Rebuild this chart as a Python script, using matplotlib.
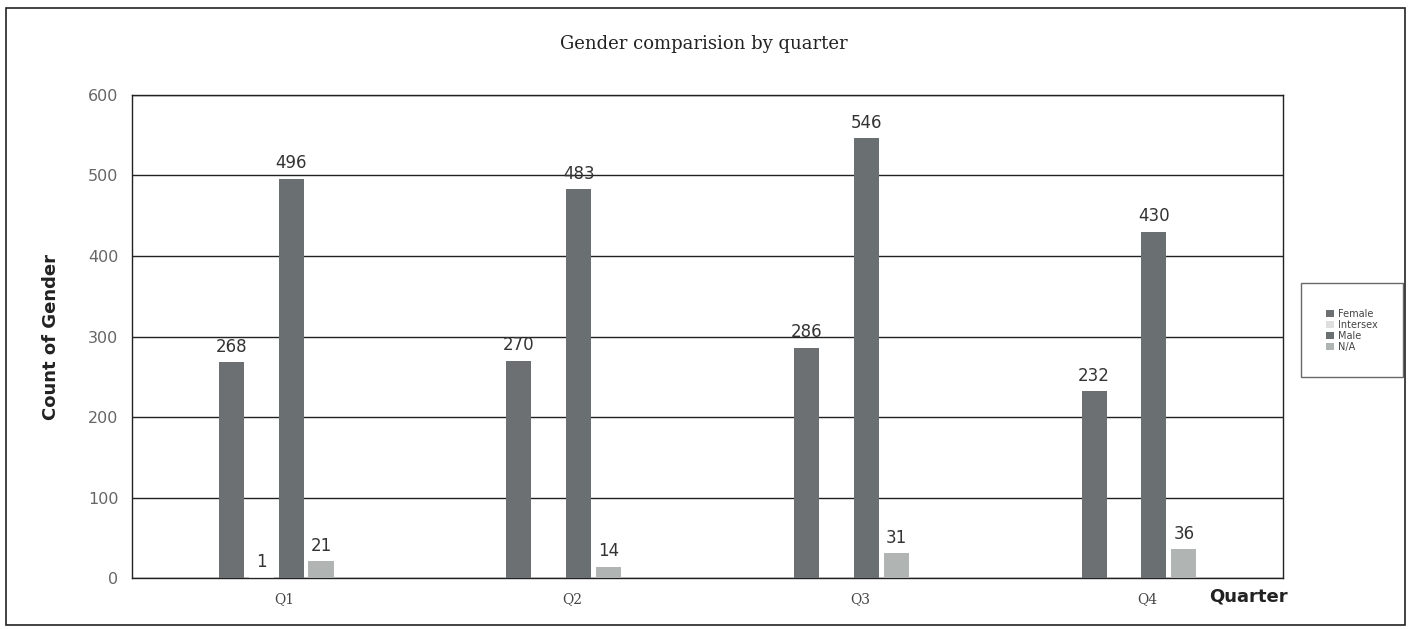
import matplotlib
matplotlib.use("Agg")
import matplotlib.pyplot as plt
import numpy as np
from matplotlib.patches import Rectangle

quarters = ["Q1", "Q2", "Q3", "Q4"]
series = ["Female", "Intersex", "Male", "N/A"]
female = [268, 270, 286, 232]
intersex = [1, 0, 0, 0]
male = [496, 483, 546, 430]
na = [21, 14, 31, 36]
values = [female, intersex, male, na]
colors = ["#6c7072", "#dedede", "#6a6f72", "#b0b4b3"]

fig = plt.figure(figsize=(14.08, 6.29), dpi=100)
ax = fig.add_axes([0.094, 0.081, 0.817, 0.768])

x = np.arange(len(quarters))
slot = 0.104
bw = 0.087
for i, (name, vals, c) in enumerate(zip(series, values, colors)):
    pos = x + (i - 1.5) * slot
    bars = ax.bar(pos, vals, width=bw, color=c, label=name, zorder=3)
    for b, v in zip(bars, vals):
        if v > 0:
            ax.text(b.get_x() + b.get_width() / 2, v + 8, str(v), ha="center",
                    va="bottom", fontsize=12, color="#333333", zorder=4)

ax.set_xlim(-0.5, 3.5)
ax.set_ylim(0, 600)
ax.set_yticks(range(0, 601, 100))
ax.yaxis.grid(True, color="#222222", linewidth=1.0, zorder=1)
ax.set_axisbelow(True)
ax.set_xticks(x + 0.03)
ax.set_xticklabels(quarters, fontfamily="DejaVu Serif", fontsize=10, color="#444444")
ax.tick_params(axis="both", length=0, pad=10)
for lab in ax.get_yticklabels():
    lab.set_fontsize(11.5)
    lab.set_color("#666666")
for s in ax.spines.values():
    s.set_color("#222222")
    s.set_linewidth(1.0)

ax.set_ylabel("Count of Gender", fontsize=13, fontweight="bold", labelpad=20, color="#222222")
fig.text(0.5, 0.93, "Gender comparision by quarter", ha="center", va="center",
         fontfamily="DejaVu Serif", fontsize=13, color="#222222")
fig.text(0.887, 0.052, "Quarter", ha="center", va="center", fontsize=13,
         fontweight="bold", color="#222222")

leg = ax.legend(loc="center left", bbox_to_anchor=(1.0155, 0.513), fontsize=7,
                frameon=True, fancybox=False, edgecolor="#444444",
                handlelength=0.8, handleheight=0.8, borderpad=2.6, labelspacing=0.1,
                handletextpad=0.5, borderaxespad=0)
for t in leg.get_texts():
    t.set_color("#444444")

fig.patches.append(Rectangle((0.004, 0.006), 0.994, 0.982, transform=fig.transFigure,
                             fill=False, edgecolor="#222222", linewidth=1.2))

fig.savefig("out.png", dpi=100)
